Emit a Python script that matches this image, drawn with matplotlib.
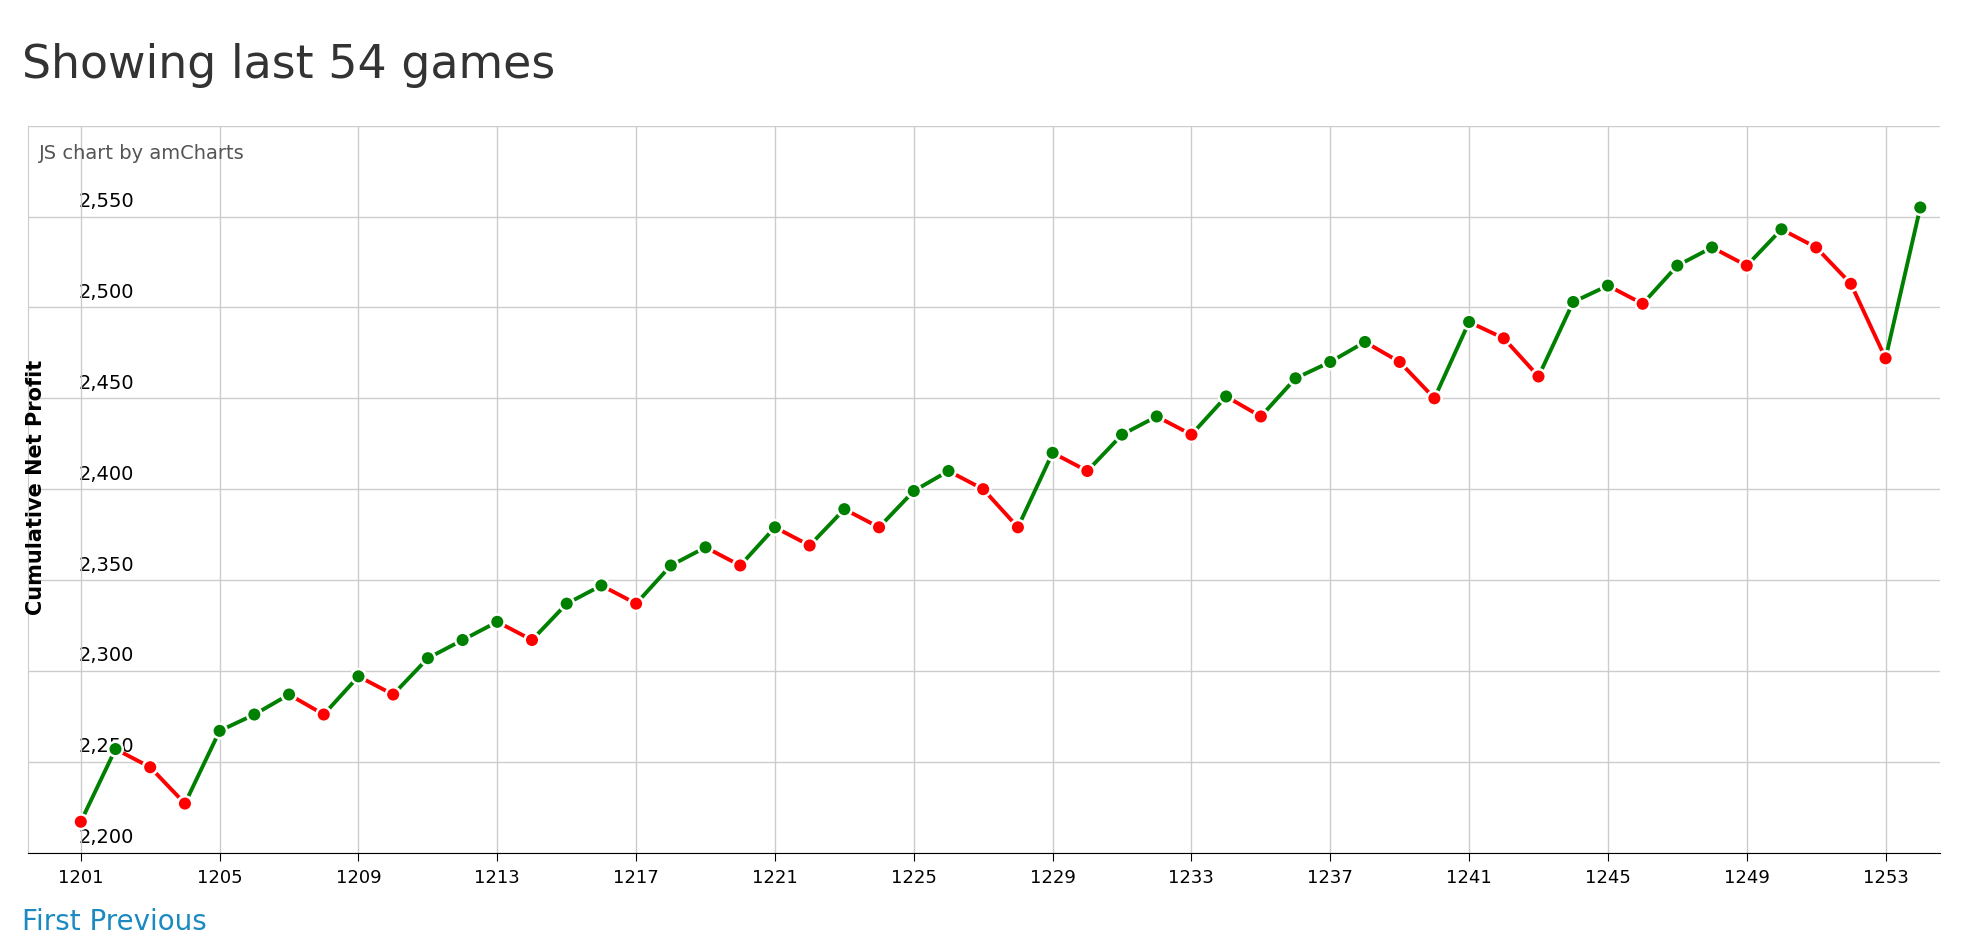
import matplotlib
matplotlib.use('Agg')
import matplotlib.pyplot as plt

games = list(range(1201, 1255))
profit = [2217, 2257, 2247, 2227, 2267, 2276, 2287, 2276, 2297, 2287,
          2307, 2317, 2327, 2317, 2337, 2347, 2337, 2358, 2368, 2358,
          2379, 2369, 2389, 2379, 2399, 2410, 2400, 2379, 2420, 2410,
          2430, 2440, 2430, 2451, 2440, 2461, 2470, 2481, 2470, 2450,
          2492, 2483, 2462, 2503, 2512, 2502, 2523, 2533, 2523, 2543,
          2533, 2513, 2472, 2555]
y_ticks = [2200, 2250, 2300, 2350, 2400, 2450, 2500, 2550]
x_ticks = list(range(1201, 1254, 4))

fig = plt.figure(figsize=(19.78, 9.38), dpi=100)
ax = fig.add_axes([0.014, 0.091, 0.967, 0.775])

# segments coloured by direction
for i in range(1, len(games)):
    c = 'green' if profit[i] >= profit[i - 1] else 'red'
    ax.plot(games[i - 1:i + 1], profit[i - 1:i + 1], color=c, lw=2.8, zorder=2)

cols = ['red'] + ['green' if profit[i] >= profit[i - 1] else 'red' for i in range(1, len(games))]
ax.scatter(games, profit, c=cols, s=110, edgecolors='white', linewidths=1.8, zorder=3)

ax.set_xlim(1199.47, 1254.58)
ax.set_ylim(2200, 2600)
ax.set_xticks(x_ticks)
ax.set_xticklabels([str(x) for x in x_ticks], fontsize=13)
ax.set_yticks(y_ticks + [2600])
ax.set_yticklabels([])
ax.tick_params(axis='y', length=0)
ax.tick_params(axis='x', length=6, pad=6)
ax.grid(True, color='#cccccc', lw=1)
for s in ['top', 'right']:
    ax.spines[s].set_visible(False)
ax.spines['left'].set_color('#cccccc')
ax.spines['bottom'].set_color('black')
for v in y_ticks:
    ax.text(1200.95, v + 3, f'{v:,}', fontsize=14, va='bottom', ha='left', zorder=1)

ax.text(1199.8, 2590, 'JS chart by amCharts', fontsize=14, color='#555555', va='top')
fig.text(0.013, 0.48, 'Cumulative Net Profit', rotation=90, fontsize=15,
         fontweight='bold', va='center', ha='left')
fig.text(0.011, 0.93, 'Showing last 54 games', fontsize=33, color='#333333',
         va='center', ha='left')
fig.text(0.011, 0.017, 'First Previous', fontsize=20, color='#1a8ac0',
         va='center', ha='left')

fig.savefig('out.png')
